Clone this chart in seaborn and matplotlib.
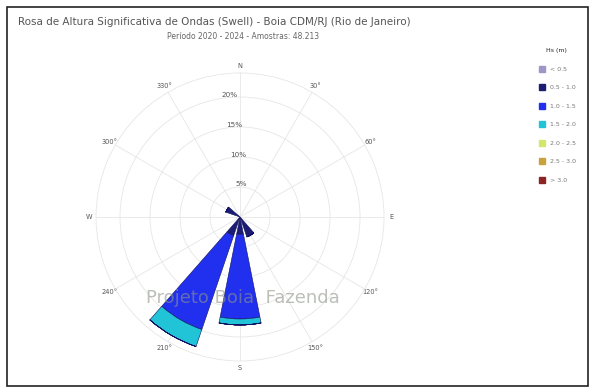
import numpy as np
import matplotlib
matplotlib.use("Agg")
import matplotlib.pyplot as plt
import seaborn as sns
from matplotlib.patches import Rectangle
from matplotlib.lines import Line2D

# ---------------- data ----------------
directions = [0, 30, 60, 90, 120, 150, 180, 210, 240, 270, 300, 330]
bin_labels = ["< 0.5", "0.5 - 1.0", "1.0 - 1.5", "1.5 - 2.0",
              "2.0 - 2.5", "2.5 - 3.0", "> 3.0"]
hs_lt05  = [0, 0, 0, 0, 0, 0.3, 0.3, 0.3, 0, 0, 0.3, 0]
hs_05_10 = [0, 0, 0, 0, 0, 3.2, 2.6, 3.0, 0, 0, 2.2, 0]
hs_10_15 = [0, 0, 0, 0, 0, 0.0, 14.1, 16.5, 0, 0, 0, 0]
hs_15_20 = [0, 0, 0, 0, 0, 0.0, 1.0, 3.0, 0, 0, 0, 0]
hs_20_25 = [0] * 12
hs_25_30 = [0] * 12
hs_gt30  = [0] * 12
series = [hs_lt05, hs_05_10, hs_10_15, hs_15_20, hs_20_25, hs_25_30, hs_gt30]

radial_ticks = [5, 10, 15, 20]
radial_labels = ["5%", "10%", "15%", "20%"]
angle_ticks = [0, 30, 60, 90, 120, 150, 180, 210, 240, 270, 300, 330]
angle_labels = ["N", "30°", "60°", "E", "120°", "150°", "S", "210°",
                "240°", "W", "300°", "330°"]

title = "Rosa de Altura Significativa de Ondas (Swell) - Boia CDM/RJ (Rio de Janeiro)"
subtitle = "Período 2020 - 2024 - Amostras: 48.213"

# ---------------- style ----------------
sns.set_theme(style="white")
plt.rcParams["font.family"] = ["DejaVu Sans"]
colors = ["#9d96c8", "#1c1c72", "#2130ee", "#20c4d6", "#d6e66c", "#c9a23e", "#8c2424"]
palette = sns.color_palette(colors)

fig = plt.figure(figsize=(5.92, 3.88), dpi=100)
fig.patch.set_facecolor("white")
fig.add_artist(Rectangle((0.012, 0.006), 0.982, 0.975, transform=fig.transFigure,
                         fill=False, edgecolor="#222222", linewidth=1.2))

ax = fig.add_axes([0.1622, 0.0696, 0.4865, 0.7423], projection="polar")
ax.set_theta_zero_location("N")
ax.set_theta_direction(-1)
ax.set_facecolor("white")

theta = np.deg2rad(directions)
width = np.deg2rad(22.5)
bottom = np.zeros(len(directions))
for vals, col in zip(series, palette):
    vals = np.array(vals, dtype=float)
    ax.bar(theta, vals, width=width, bottom=bottom, color=col,
           edgecolor="#101060", linewidth=0.4, zorder=3)
    bottom += vals

ax.set_ylim(0, 24)
ax.set_yticks(radial_ticks)
ax.set_yticklabels(radial_labels, fontsize=5.2, color="#555555")
ax.set_rlabel_position(-9)
ax.set_xticks(np.deg2rad(angle_ticks))
ax.set_xticklabels(angle_labels, fontsize=4.8, color="#555555")
ax.tick_params(axis="x", pad=-8)
ax.grid(True, color="#e6e6e6", linewidth=0.6)
ax.spines["polar"].set_color("#e6e6e6")
ax.spines["polar"].set_linewidth(0.6)

# watermark-like text behind the bars
fig.text(0.41, 0.232, "Projeto Boia  Fazenda", ha="center", va="center",
         fontsize=13, color="#8f958a", alpha=0.6, zorder=0)

fig.text(0.03, 0.943, title, ha="left", va="center", fontsize=7.5, color="#555555")
fig.text(0.41, 0.905, subtitle, ha="center", va="center", fontsize=5.5, color="#666666")

handles = [Line2D([0], [0], marker="s", linestyle="none", markersize=4.5,
                  markerfacecolor=c, markeredgecolor=c) for c in palette]
fig.legend(handles, bin_labels, loc="upper left", bbox_to_anchor=(0.895, 0.89),
           frameon=False, fontsize=4.5, labelspacing=2.1, handletextpad=0.4,
           title="Hs (m)", title_fontsize=4.5, labelcolor="#777777")

fig.savefig("out.png", dpi=100, facecolor="white")
